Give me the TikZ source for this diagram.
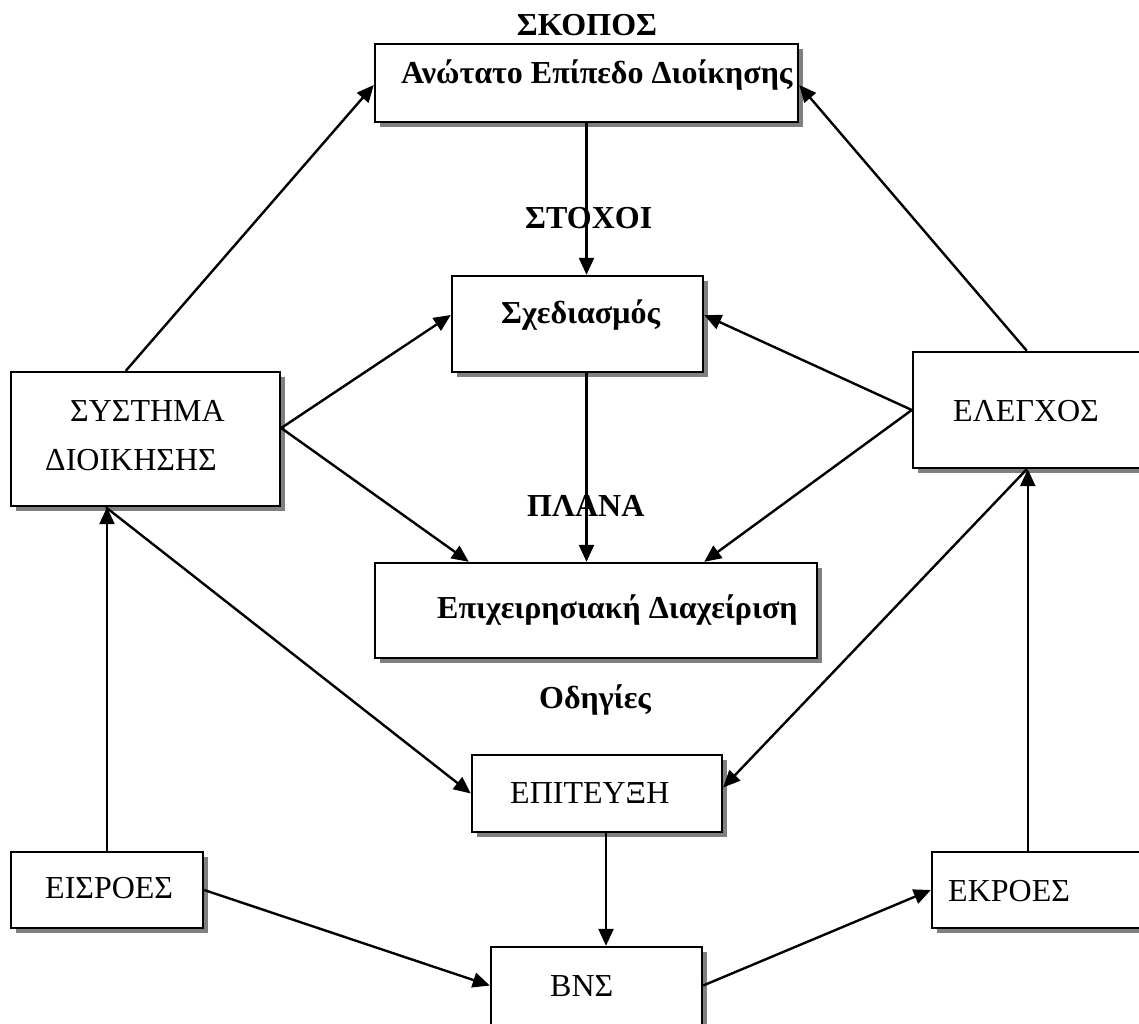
\documentclass[tikz,border=0pt]{standalone}
\usepackage{fontspec}
\setmainfont{Liberation Serif}
\usetikzlibrary{arrows.meta,shadows}

\begin{document}
\begin{tikzpicture}[x=1pt,y=-1pt,
  box/.style={draw=black,line width=2.4pt,fill=white,inner sep=0pt,
    drop shadow={shadow xshift=5pt,shadow yshift=-5pt,fill=black!50,opacity=1}},
  txt/.style={inner sep=0pt,anchor=base west,font=\fontsize{32}{38}\selectfont},
  btxt/.style={txt,font=\fontsize{32}{38}\selectfont\bfseries},
  conn/.style={line width=2.4pt,-{Triangle[length=17pt,width=15pt]}}
]
\useasboundingbox (0,0) rectangle (1139,1023);
\clip (0,0) rectangle (1139,1023);

% boxes
\node[box,minimum width=423,minimum height=78] (top) at (586.5,83) {};
\node[box,minimum width=251,minimum height=96] (plan) at (577.5,324) {};
\node[box,minimum width=269,minimum height=134] (sys) at (145.5,439) {};
\node[box,minimum width=247,minimum height=116] (ctrl) at (1036.5,410) {};
\node[box,minimum width=442,minimum height=95] (ops) at (596,610.5) {};
\node[box,minimum width=250,minimum height=77] (ach) at (597,793.5) {};
\node[box,minimum width=192,minimum height=76] (inp) at (107,890) {};
\node[box,minimum width=228,minimum height=76] (outp) at (1046,890) {};
\node[box,minimum width=211,minimum height=93] (bns) at (596.5,993.5) {};

% texts
\node[btxt,anchor=base] (lskopos) at (587,35) {ΣΚΟΠΟΣ};
\node[btxt] (ltop) at (401,83) {Ανώτατο Επίπεδο Διοίκησης};
\node[btxt] (lstoxoi) at (525,228) {ΣΤΟΧΟΙ};
\node[btxt] (lplan) at (501,323) {Σχεδιασμός};
\node[btxt] (lplana) at (527,516) {ΠΛΑΝΑ};
\node[btxt] (lops) at (437,618) {Επιχειρησιακή Διαχείριση};
\node[btxt] (lodig) at (539,708) {Οδηγίες};
\node[txt] (lsys1) at (70,421) {ΣΥΣΤΗΜΑ};
\node[txt] (lsys2) at (45,470) {ΔΙΟΙΚΗΣΗΣ};
\node[txt] (lctrl) at (953,421) {ΕΛΕΓΧΟΣ};
\node[txt] (lach) at (510,803) {ΕΠΙΤΕΥΞΗ};
\node[txt] (linp) at (45,898) {ΕΙΣΡΟΕΣ};
\node[txt] (lout) at (948,901) {ΕΚΡΟΕΣ};
\node[txt] (lbns) at (550,996) {ΒΝΣ};

% connectors
\draw[conn] ([xshift=116pt]sys.north west) -- ([yshift=-2pt]top.west);
\draw[conn] ([xshift=115pt]ctrl.north west) -- ([yshift=-2pt]top.east);
\draw[conn] (top.south) -- (top.south |- plan.north);
\draw[conn] (plan.south -| top.south) -- (top.south |- ops.north);
\draw[conn] ([yshift=11pt]sys.east) -- ([yshift=9pt]plan.west);
\draw[conn] ([yshift=11pt]sys.east) -- ([xshift=95pt]ops.north west);
\draw[conn] (ctrl.west) -- ([yshift=9pt]plan.east);
\draw[conn] (ctrl.west) -- ([xshift=-114pt]ops.north east);
\draw[conn] ([xshift=96pt]sys.south west) -- (ach.west);
\draw[conn] ([xshift=115pt]ctrl.south west) -- ([yshift=6pt]ach.east);
\draw[conn] (inp.north) -- (inp.north |- sys.south);
\draw[conn] ([xshift=97pt]outp.north west) -- ([xshift=116pt]ctrl.south west);
\draw[conn] ([xshift=9pt]ach.south) -- ([xshift=9.5pt]bns.north);
\draw[conn] (inp.east) -- ([yshift=8pt]bns.west);
\draw[conn] ([yshift=8pt]bns.east) -- (outp.west);
\end{tikzpicture}
\end{document}
